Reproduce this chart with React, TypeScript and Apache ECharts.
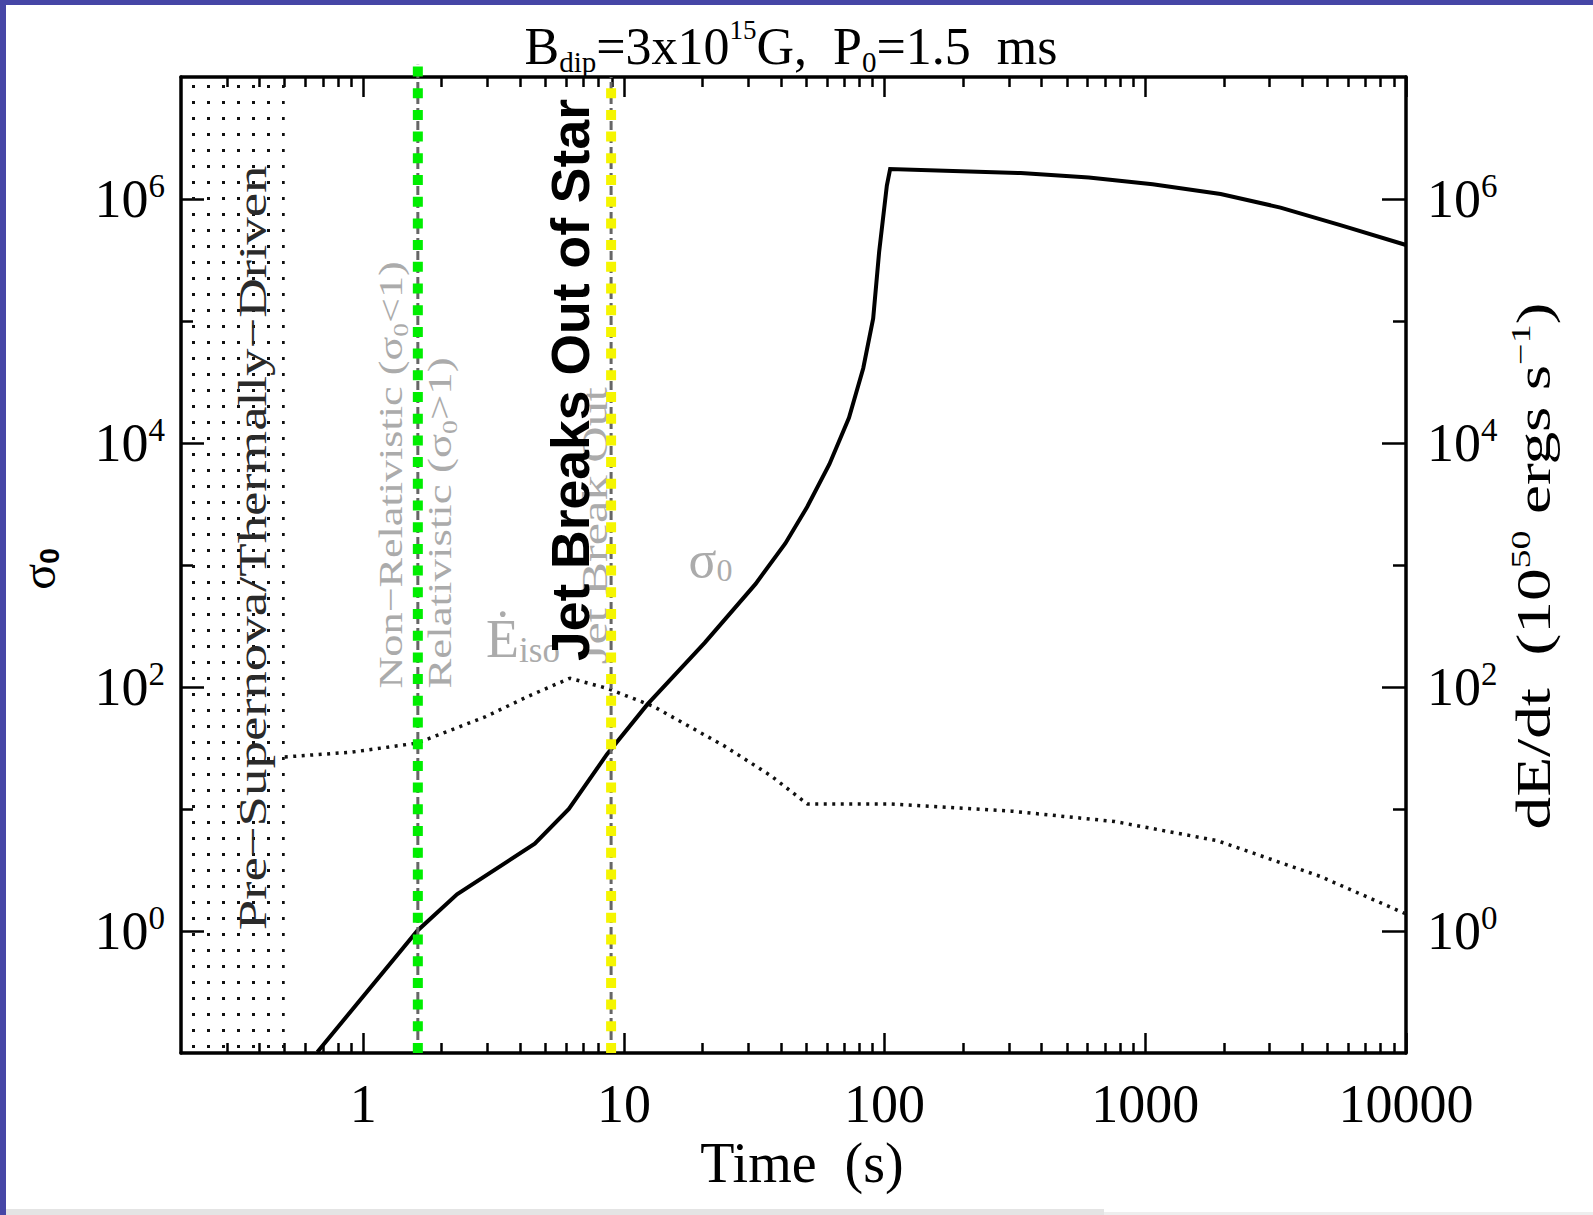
import React, { useEffect, useRef } from 'react';
import * as echarts from 'echarts';

// ---------------- data ----------------
const X_MIN = 0.2;
const X_MAX = 10000;
const Y_MIN = 0.1;
const Y_MAX = 1e7;

// sigma_0 (solid line)
const sigmaTime = [0.667, 1.61, 2.29, 4.55, 6.15, 8.6, 12.3, 20.4, 32, 41.6, 50.5, 61.4, 73, 82.8, 90.4, 95.3, 102, 105, 183, 333, 607, 1067, 1945, 3300, 5600, 10000];
const sigmaValue = [0.102, 1.0, 2.0, 5.2, 10, 28, 72, 230, 700, 1500, 3000, 6700, 16100, 41000, 1.05e5, 3.7e5, 1.29e6, 1.76e6, 1.7e6, 1.63e6, 1.5e6, 1.32e6, 1.1e6, 8.5e5, 6.1e5, 4.2e5];

// dE/dt iso (dotted line)
const eisoTime = [0.5, 0.91, 1.61, 2.93, 4.3, 6.2, 8.6, 12.9, 24.3, 36.8, 50.5, 104, 307, 762, 1890, 4690, 10000];
const eisoValue = [26.7, 29.3, 34.7, 56.8, 84, 118, 97.7, 69.8, 32.8, 18.6, 11.0, 11.0, 9.6, 7.9, 5.5, 2.8, 1.38];

// vertical markers
const nonRelativisticTime = 1.62;
const jetBreakoutTime = 8.93;
const thermalPhaseEnd = 0.5;
const greenTopValue = 1.26e7;

// ticks
const xTickValues = [1, 10, 100, 1000, 10000];
const xTickLabels = ['1', '10', '100', '1000', '10000'];
const xMinorMultipliers = [2, 3, 4, 5, 6, 7, 8, 9];
const xMinorDecades = [0.1, 1, 10, 100, 1000];
const yTickValues = [1, 100, 1e4, 1e6];
const yTickExponents = ['0', '2', '4', '6'];
const yMinorTickValues = [10, 1000, 1e5];

// ---------------- helpers ----------------
const lg = (v: number) => Math.log10(v);
const SERIF = "'Liberation Serif', 'DejaVu Serif', serif";
const SANS = "'Liberation Sans', Arial, sans-serif";

const xMinorValues: number[] = [];
xMinorDecades.forEach((d) => xMinorMultipliers.forEach((m) => {
  const v = d * m;
  if (v > X_MIN && v < X_MAX) xMinorValues.push(lg(v));
}));

function xAxisDef(position: string, ticks: number[], len: number, line: boolean, labels: boolean) {
  return {
    type: 'value', position, min: lg(X_MIN), max: lg(X_MAX), gridIndex: 0,
    splitLine: { show: false }, splitArea: { show: false },
    axisLine: { show: line, onZero: false, lineStyle: { color: '#000', width: 3.5 } },
    axisTick: { show: true, inside: true, length: len, customValues: ticks, lineStyle: { color: '#000', width: 2.5 } },
    axisLabel: labels ? {
      show: true, customValues: ticks, margin: 21, color: '#000', fontFamily: SERIF, fontSize: 54, lineHeight: 60,
      formatter: (v: number) => {
        const i = xTickValues.findIndex((t) => Math.abs(lg(t) - v) < 1e-6);
        return i >= 0 ? xTickLabels[i] : '';
      },
    } : { show: false },
  };
}

function yAxisDef(position: string, ticks: number[], len: number, line: boolean, labels: boolean, margin: number) {
  return {
    type: 'value', position, min: lg(Y_MIN), max: lg(Y_MAX), gridIndex: 0,
    splitLine: { show: false }, splitArea: { show: false },
    axisLine: { show: line, onZero: false, lineStyle: { color: '#000', width: 3.5 } },
    axisTick: { show: true, inside: true, length: len, customValues: ticks, lineStyle: { color: '#000', width: 2.5 } },
    axisLabel: labels ? {
      show: true, customValues: ticks, margin,
      formatter: (v: number) => {
        const i = yTickValues.findIndex((t) => Math.abs(lg(t) - v) < 1e-6);
        return i >= 0 ? `{b|10}{p|${yTickExponents[i]}}` : '';
      },
      rich: {
        b: { fontSize: 54, lineHeight: 60, fontFamily: SERIF, color: '#000' },
        p: { fontSize: 33, lineHeight: 29, verticalAlign: 'top', fontFamily: SERIF, color: '#000' },
      },
    } : { show: false },
  };
}

export default function App() {
  const ref = useRef<HTMLDivElement>(null);

  useEffect(() => {
    const el = ref.current!;
    const chart = echarts.init(el, null, { renderer: 'svg' });

    const tile = document.createElement('canvas');
    tile.width = 15;
    tile.height = 16;
    const ctx = tile.getContext('2d')!;
    ctx.fillStyle = '#111';
    ctx.fillRect(12, 5, 3, 3);

    const yMajor = yTickValues.map(lg);
    const yMinor = yMinorTickValues.map(lg);
    const xMajor = xTickValues.map(lg);

    const option: any = {
      animation: false,
      backgroundColor: '#ffffff',
      grid: { left: 181, right: 187, top: 77, bottom: 162, containLabel: false, outerBoundsMode: 'none' },
      xAxis: [
        xAxisDef('bottom', xMajor, 20, true, true),
        xAxisDef('bottom', xMinorValues, 10, false, false),
        xAxisDef('top', xMajor, 20, true, false),
        xAxisDef('top', xMinorValues, 10, false, false),
      ],
      yAxis: [
        yAxisDef('left', yMajor, 23, true, true, 16),
        yAxisDef('left', yMinor, 12, false, false, 0),
        yAxisDef('right', yMajor, 24, true, true, 21),
        yAxisDef('right', yMinor, 13, false, false, 0),
      ],
      series: [
        {
          name: 'Eiso', type: 'line', xAxisIndex: 0, yAxisIndex: 0, z: 3,
          symbol: 'none', showSymbol: false, silent: true,
          data: eisoTime.map((t, i) => [lg(t), lg(eisoValue[i])]),
          lineStyle: { color: '#111', width: 3.5, type: [3, 5.5] },
          markArea: {
            silent: true,
            itemStyle: { color: { image: tile, repeat: 'repeat' }, borderWidth: 0 },
            label: { show: false },
            data: [[{ xAxis: lg(X_MIN) }, { xAxis: lg(thermalPhaseEnd) }]],
          },
        },
        {
          name: 'sigma0', type: 'line', xAxisIndex: 0, yAxisIndex: 0, z: 4,
          symbol: 'none', showSymbol: false, silent: true,
          data: sigmaTime.map((t, i) => [lg(t), lg(sigmaValue[i])]),
          lineStyle: { color: '#000', width: 4, join: 'miter' },
        },
        {
          name: 'nonRelGray', type: 'line', z: 5, clip: false, symbol: 'none', silent: true,
          data: [[lg(nonRelativisticTime), lg(Y_MIN)], [lg(nonRelativisticTime), lg(greenTopValue)]],
          lineStyle: { color: '#666', width: 3, type: [9, 4] },
        },
        {
          name: 'nonRelGreen', type: 'line', z: 6, clip: false, symbol: 'none', silent: true,
          data: [[lg(nonRelativisticTime), lg(Y_MIN)], [lg(nonRelativisticTime), lg(greenTopValue)]],
          lineStyle: { color: '#00ee00', width: 10, type: [10, 11.7], cap: 'butt' },
        },
        {
          name: 'jetGray', type: 'line', z: 5, clip: false, symbol: 'none', silent: true,
          data: [[lg(jetBreakoutTime), lg(Y_MIN)], [lg(jetBreakoutTime), lg(Y_MAX)]],
          lineStyle: { color: '#666', width: 3, type: [9, 4] },
        },
        {
          name: 'jetYellow', type: 'line', z: 6, clip: false, symbol: 'none', silent: true,
          data: [[lg(jetBreakoutTime), lg(Y_MIN)], [lg(jetBreakoutTime), lg(Y_MAX)]],
          lineStyle: { color: '#f5f500', width: 10, type: [10, 11.7], cap: 'butt' },
        },
      ],
    };
    chart.setOption(option);

    const px = (t: number, v: number) =>
      chart.convertToPixel({ xAxisIndex: 0, yAxisIndex: 0 }, [lg(t), lg(v)]) as number[];

    const GRAY = '#ababab';
    const rotText = (t: number, v: number, text: string, rich: any, scaleX: number, z: number) => {
      const [x, y] = px(t, v);
      return {
        type: 'text', x, y, rotation: Math.PI / 2, scaleX, z, silent: true,
        style: { text, rich, align: 'center', verticalAlign: 'middle' },
      };
    };

    const grayRich = (fs: number) => ({
      n: { fontSize: fs, fontFamily: SERIF, fill: GRAY, lineHeight: fs + 6 },
      s: { fontSize: Math.round(fs * 0.62), fontFamily: SERIF, fill: GRAY, lineHeight: Math.round(fs * 0.62) + 2, verticalAlign: 'bottom' },
    });

    const [eX, eY] = px(4.1, 247);
    const [sX, sY] = px(21.5, 1100);

    const graphic: any[] = [
      // page frame decoration
      { type: 'rect', shape: { x: 0, y: 0, width: 6, height: 1215 }, style: { fill: '#4646a6' }, z: 20, silent: true },
      { type: 'rect', shape: { x: 0, y: 0, width: 1593, height: 5 }, style: { fill: '#4646a6' }, z: 20, silent: true },
      { type: 'rect', shape: { x: 6, y: 1209, width: 1098, height: 6 }, style: { fill: '#e4e4e4' }, z: 20, silent: true },
      { type: 'rect', shape: { x: 1104, y: 1212, width: 489, height: 3 }, style: { fill: '#eeeeee' }, z: 20, silent: true },
      // title
      {
        type: 'text', x: 791, y: 46, z: 10, silent: true,
        style: {
          text: '{n|B}{s|dip}{n|=3x10}{p|15}{n|G,  P}{s|0}{n|=1.5  ms}',
          align: 'center', verticalAlign: 'middle',
          rich: {
            n: { fontSize: 52, fontFamily: SERIF, fill: '#000', lineHeight: 60 },
            s: { fontSize: 29, fontFamily: SERIF, fill: '#000', lineHeight: 32, verticalAlign: 'bottom' },
            p: { fontSize: 27, fontFamily: SERIF, fill: '#000', lineHeight: 47, verticalAlign: 'top' },
          },
        },
      },
      // x axis name
      {
        type: 'text', x: 802, y: 1163, z: 10, silent: true,
        style: { text: 'Time  (s)', align: 'center', verticalAlign: 'middle', fontSize: 56, fontFamily: SERIF, fill: '#000' },
      },
      // left axis name
      {
        type: 'text', x: 38, y: 569, rotation: Math.PI / 2, z: 10, silent: true,
        style: {
          text: '{n|σ}{s|0}', align: 'center', verticalAlign: 'middle',
          rich: {
            n: { fontSize: 48, fontFamily: SERIF, fill: '#000', lineHeight: 50 },
            s: { fontSize: 28, fontFamily: SANS, fontWeight: 'bold', fill: '#000', lineHeight: 40, verticalAlign: 'bottom' },
          },
        },
      },
      // right axis name
      {
        type: 'text', x: 1534, y: 566, rotation: Math.PI / 2, scaleX: 1.36, z: 10, silent: true,
        style: {
          text: '{n|dE/dt  (10}{p|50}{n| ergs s}{p|−1}{n|)}', align: 'center', verticalAlign: 'middle',
          rich: {
            n: { fontSize: 48, fontFamily: SERIF, fill: '#000', lineHeight: 56 },
            p: { fontSize: 28, fontFamily: SERIF, fill: '#000', lineHeight: 36, verticalAlign: 'top' },
          },
        },
      },
      // annotations
      rotText(0.376, 1380, '{n|Pre−Supernova/Thermally−Driven}', {
        n: { fontSize: 40, fontFamily: SERIF, fill: '#2a2a2a', lineHeight: 46 },
      }, 1.37, 1),
      rotText(1.28, 5470, '{n|Non−Relativistic (σ}{s|0}{n|<1)}', grayRich(34), 1.3, 1),
      rotText(1.97, 2210, '{n|Relativistic (σ}{s|0}{n|>1)}', grayRich(34), 1.32, 1),
      rotText(7.75, 2100, '{n|Jet Break Out}', grayRich(36), 1.4, 1),
      rotText(6.25, 32800, '{n|Jet Breaks Out of Star}', {
        n: { fontSize: 53, fontFamily: SANS, fontWeight: 'bold', fill: '#000', lineHeight: 60 },
      }, 1.01, 10),
      {
        type: 'text', x: eX, y: eY, z: 1, silent: true,
        style: {
          text: '{e|Ė}{i|iso}', align: 'center', verticalAlign: 'middle',
          rich: {
            e: { fontSize: 54, fontFamily: SERIF, fill: GRAY, lineHeight: 58 },
            i: { fontSize: 35, fontFamily: SERIF, fill: GRAY, lineHeight: 36, verticalAlign: 'bottom' },
          },
        },
      },
      {
        type: 'text', x: sX, y: sY, z: 1, silent: true,
        style: {
          text: '{n|σ}{s|0}', align: 'center', verticalAlign: 'middle',
          rich: {
            n: { fontSize: 52, fontFamily: SERIF, fill: GRAY, lineHeight: 52 },
            s: { fontSize: 32, fontFamily: SERIF, fill: GRAY, lineHeight: 34, verticalAlign: 'bottom' },
          },
        },
      },
    ];
    chart.setOption({ graphic });

    return () => chart.dispose();
  }, []);

  return (
    <div
      ref={ref}
      style={{ position: 'fixed', left: 0, top: 0, width: 1593, height: 1215, background: '#fff' }}
    />
  );
}
